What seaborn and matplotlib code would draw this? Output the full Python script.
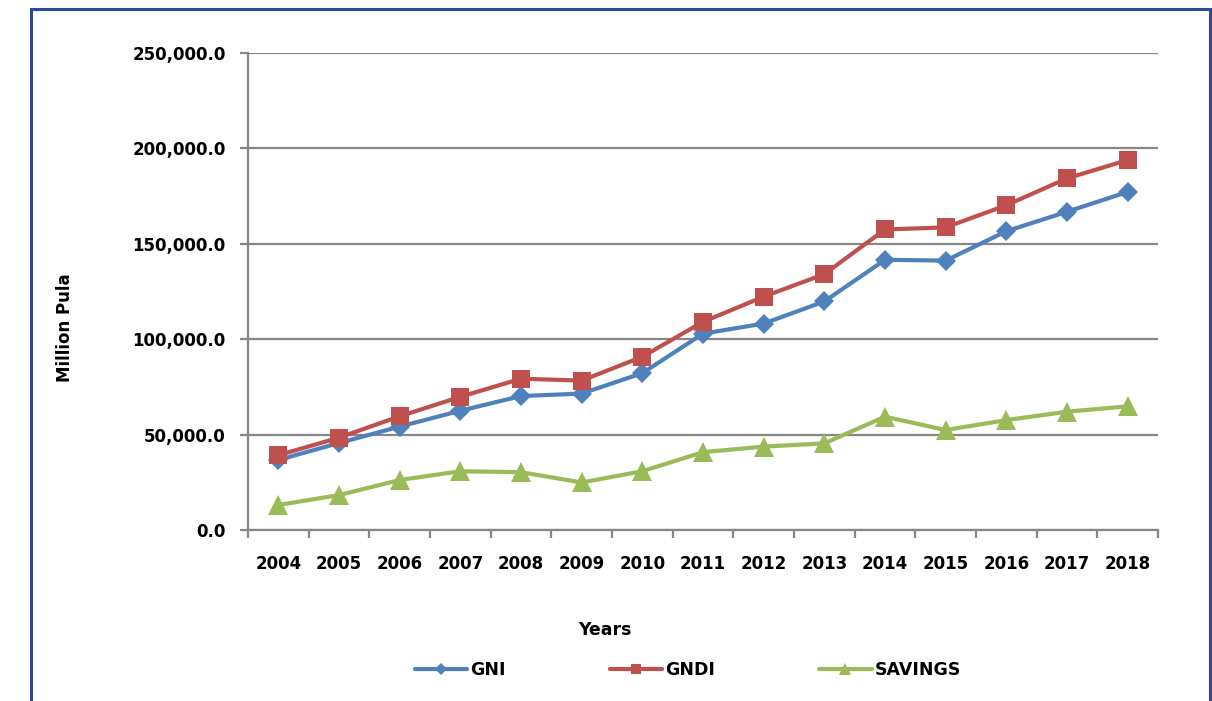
import pandas as pd
import matplotlib
matplotlib.use("Agg")
import matplotlib.pyplot as plt
import matplotlib.patches as mpatches
from matplotlib.ticker import FuncFormatter, FixedLocator
import seaborn as sns

# datos (millones de Pula)
years = [2004, 2005, 2006, 2007, 2008, 2009, 2010, 2011, 2012, 2013, 2014, 2015, 2016, 2017, 2018]
gni = [36700, 45600, 54200, 62500, 70200, 71500, 82200, 102900, 108200, 119800, 141600, 141200, 156600, 166800, 177200]
gndi = [39200, 48400, 59600, 69800, 79300, 78300, 90800, 109100, 122300, 134100, 157500, 158600, 170200, 184300, 193900]
savings = [13100, 18300, 26200, 30800, 30300, 24900, 30800, 40800, 43700, 45400, 59400, 52400, 57600, 62000, 64800]
series_names = ["GNI", "GNDI", "SAVINGS"]

df = pd.DataFrame({"Year": years * 3,
                   "Value": gni + gndi + savings,
                   "Serie": [s for s in series_names for _ in years]})

sns.set_style("white")
plt.rcParams["font.family"] = ["DejaVu Sans"]
plt.rcParams["font.weight"] = "bold"
plt.rcParams["text.color"] = "black"

fig = plt.figure(figsize=(12.12, 7.01), dpi=100)
ax = fig.add_axes([248 / 1212, 1 - 530 / 701, 910 / 1212, 477 / 701])

palette = {"GNI": "#4F81BD", "GNDI": "#C0504D", "SAVINGS": "#9BBB59"}
markers = {"GNI": "D", "GNDI": "s", "SAVINGS": "^"}
sizes_m = {"GNI": 10, "GNDI": 13, "SAVINGS": 14}

# una linea por serie para poder controlar el tamaño del marcador
for s in series_names:
    sns.lineplot(data=df[df["Serie"] == s], x="Year", y="Value", color=palette[s],
                 marker=markers[s], markersize=sizes_m[s], markeredgewidth=0,
                 linewidth=3.0, ax=ax, label=s, legend=False, zorder=3)

# ejes y rejilla
ax.set_ylim(0, 250000)
ax.set_xlim(years[0] - 0.5, years[-1] + 0.5)
ax.set_yticks(range(0, 250001, 50000))
ax.yaxis.set_major_formatter(FuncFormatter(lambda v, p: f"{v:,.1f}"))
ax.set_xticks(years)
ax.set_xticklabels([str(y) for y in years])
ax.xaxis.set_minor_locator(FixedLocator([y - 0.5 for y in years] + [years[-1] + 0.5]))
ax.grid(axis="y", color="#878787", linewidth=1.6, zorder=0)
for side in ["top", "right"]:
    ax.spines[side].set_visible(False)
for side in ["left", "bottom"]:
    ax.spines[side].set_color("#878787")
    ax.spines[side].set_linewidth(1.6)
ax.tick_params(axis="x", which="major", bottom=False, length=0, pad=18, labelsize=12, labelcolor="black")
ax.tick_params(axis="x", which="minor", bottom=True, length=6, width=1.6, color="#878787", direction="out")
ax.tick_params(axis="y", left=True, length=6, width=1.6, color="#878787", direction="out", pad=10,
               labelsize=12, labelcolor="black")
for lbl in ax.get_xticklabels() + ax.get_yticklabels():
    lbl.set_fontweight("bold")
ax.set_xlabel("")
ax.set_ylabel("")

# etiquetas de los ejes
fig.text(605 / 1212, 1 - 630 / 701, "Years", ha="center", va="center", fontsize=12.5,
         fontweight="bold", color="black")
fig.text(65 / 1212, 1 - 328 / 701, "Million Pula", ha="center", va="center", rotation=90,
         fontsize=12, fontweight="bold", color="black")

# leyenda
handles = [plt.Line2D([], [], color=palette[s], marker=markers[s], markersize=sizes_m[s] * 0.6,
                      markeredgewidth=0, linewidth=3.0) for s in series_names]
leg = fig.legend(handles, series_names, loc="center", bbox_to_anchor=(688 / 1212, 1 - 670 / 701),
                 ncol=3, frameon=False, handlelength=3.0, columnspacing=6.0, handletextpad=0.2,
                 prop={"weight": "bold", "size": 12.5}, labelcolor="black")

# marco azul alrededor del grafico
border = mpatches.Rectangle((31 / 1212, -0.05), (1210 - 31) / 1212, 1 - 9 / 701 + 0.05,
                            transform=fig.transFigure, fill=False, edgecolor="#2E4A9A",
                            linewidth=2.2, clip_on=False)
fig.patches.append(border)

fig.savefig("out.png", dpi=100)
